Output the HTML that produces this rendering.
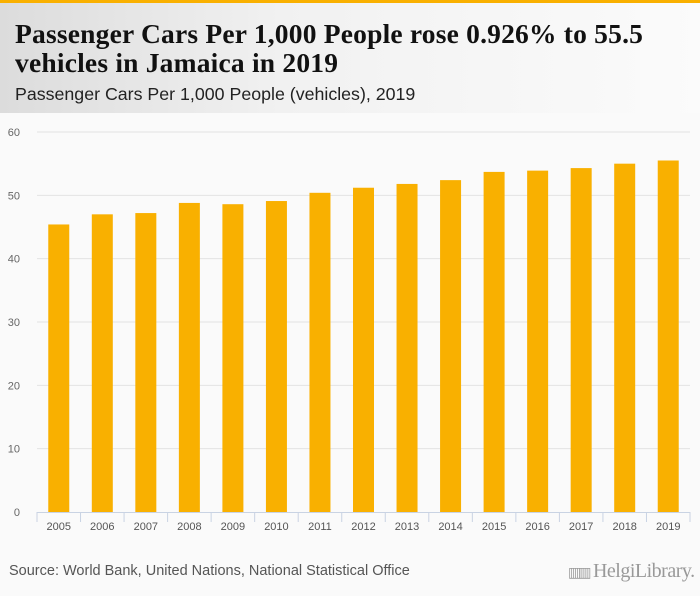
<!DOCTYPE html>
<html><head><meta charset="utf-8"><style>
body{margin:0;width:700px;height:596px;background:#fafafa;font-family:"Liberation Sans",sans-serif;overflow:hidden;position:relative}
#hdr{position:absolute;left:0;top:0;width:700px;height:113px;border-top:3px solid #f9b000;box-sizing:border-box;background:linear-gradient(90deg,#dcdcdc 0%,#f1f1f1 40%,#fbfbfb 100%)}
#title{position:absolute;left:15px;top:16px;font-family:"Liberation Serif",serif;font-weight:bold;font-size:27.5px;line-height:29px;color:#111;letter-spacing:0.2px;white-space:nowrap}
#sub{position:absolute;left:15px;top:81px;font-size:17.8px;color:#222;white-space:nowrap}
#src{position:absolute;left:9px;top:563px;font-size:14.5px;color:#555;white-space:nowrap}
#logo{position:absolute;left:568px;top:560px;font-family:"Liberation Serif",serif;font-size:20px;color:#999;white-space:nowrap;letter-spacing:-0.5px}
</style></head><body>
<div id="hdr">
<div id="title">Passenger Cars Per 1,000 People rose 0.926% to 55.5<br>vehicles in Jamaica in 2019</div>
<div id="sub">Passenger Cars Per 1,000 People (vehicles), 2019</div>
</div>
<svg id="chart" width="700" height="596" style="position:absolute;left:0;top:0"></svg>
<div id="src">Source: World Bank, United Nations, National Statistical Office</div>
<div id="logo"><span style="font-size:14px;letter-spacing:-3px">▥▥</span> HelgiLibrary.</div>
<script>
const categories=["2005","2006","2007","2008","2009","2010","2011","2012","2013","2014","2015","2016","2017","2018","2019"];
const values=[45.4,47.0,47.2,48.8,48.6,49.1,50.4,51.2,51.8,52.4,53.7,53.9,54.3,55.0,55.5];
const yTicks=[0,10,20,30,40,50,60];
const NS="http://www.w3.org/2000/svg";
const svg=document.getElementById('chart');
const x0=37,x1=690,y0=512,y1=132,yMax=60;
const bw=(x1-x0)/categories.length;
const y=v=>y0-(v/yMax)*(y0-y1);
function mk(t,a){const e=document.createElementNS(NS,t);for(const k in a)e.setAttribute(k,a[k]);svg.appendChild(e);return e;}
yTicks.forEach(t=>{
 if(t>0){const g=mk('line',{x1:x0,x2:x1,y1:y(t),y2:y(t),stroke:'#e3e3e3','stroke-width':1});
 
 }
 const l=mk('text',{x:20,y:y(t)+4,'text-anchor':'end','font-size':11,fill:'#666','font-family':'Liberation Sans, sans-serif'});
 l.textContent=t;
 
 
});
const ax=mk('line',{x1:x0,x2:x1,y1:y0+0.5,y2:y0+0.5,stroke:'#c9d3e3','stroke-width':1});


categories.forEach((c,i)=>{
 const cx=x0+bw*(i+0.5);
 const b=mk('rect',{x:cx-10.5,y:y(values[i]),width:21,height:y0-y(values[i]),fill:'#f9b000'});
 
 
 const tk=mk('line',{x1:x0+bw*i,x2:x0+bw*i,y1:y0,y2:y0+10,stroke:'#c9d3e3'});
 
 
 const t=mk('text',{x:cx,y:530,'text-anchor':'middle','font-size':11,fill:'#555','font-family':'Liberation Sans, sans-serif'});
 t.textContent=c;
 
 
});
const tl=mk('line',{x1:x1,x2:x1,y1:y0,y2:y0+10,stroke:'#c9d3e3'});


</script>
</body></html>
